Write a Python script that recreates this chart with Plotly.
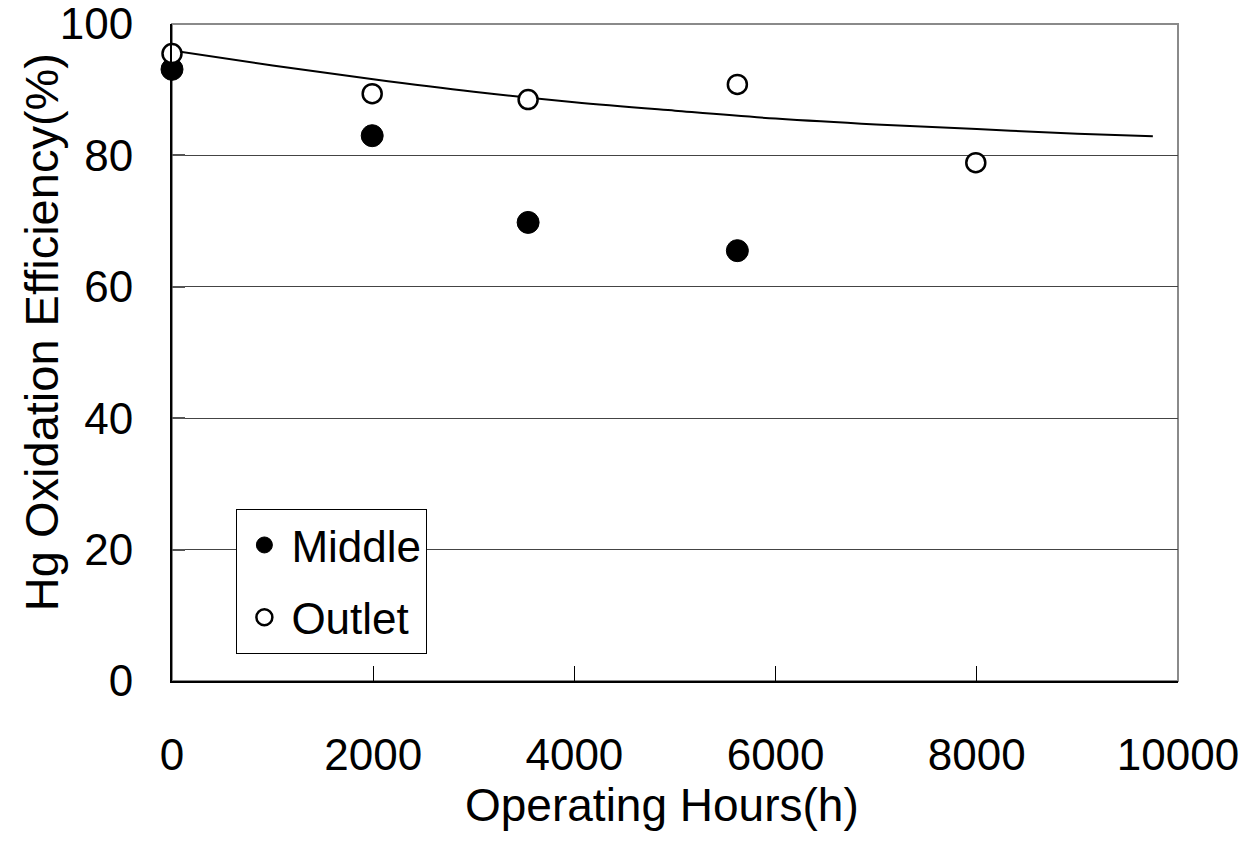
import plotly.graph_objects as go

# Measured oxidation efficiencies
hours_middle = [0, 1990, 3540, 5620]
eff_middle = [93.1, 83.0, 69.8, 65.5]

hours_outlet = [0, 1990, 3540, 5620, 7990]
eff_outlet = [95.5, 89.4, 88.5, 90.8, 78.9]

# Fitted trend curve through the outlet data
trend_hours = [-150, 1000, 2000, 3000, 4000, 5000, 6000, 7000, 8000, 9000, 9750]
trend_eff = [96.3, 93.7, 91.6, 89.7, 88.1, 86.8, 85.6, 84.7, 84.0, 83.3, 82.9]

x_ticks = [0, 2000, 4000, 6000, 8000, 10000]
y_ticks = [0, 20, 40, 60, 80, 100]

FONT = "Liberation Sans, Arial, sans-serif"

fig = go.Figure()

fig.add_trace(go.Scatter(
    x=trend_hours, y=trend_eff, mode="lines", line_shape="spline",
    line=dict(color="black", width=2), showlegend=False, hoverinfo="skip",
))
fig.add_trace(go.Scatter(
    x=hours_middle, y=eff_middle, mode="markers", name="Middle",
    legendgroup="middle",
    marker=dict(symbol="circle", size=22, color="black",
                line=dict(color="black", width=1)),
    cliponaxis=False,
))
fig.add_trace(go.Scatter(
    x=hours_outlet, y=eff_outlet, mode="markers", name="Outlet",
    legendgroup="outlet",
    marker=dict(symbol="circle", size=19, color="white",
                line=dict(color="black", width=2.5)),
    cliponaxis=False,
))

# grey frame on top and right
fig.add_shape(type="rect", xref="paper", yref="paper", x0=0, y0=0, x1=1, y1=1,
              line=dict(color="#8a8a8a", width=2), layer="below")

# axis titles as annotations
fig.add_annotation(
    text="Hg Oxidation Efficiency(%)", textangle=-90,
    xref="paper", yref="paper", x=0, y=0.531,
    xanchor="center", yanchor="middle", xshift=-131, showarrow=False,
    font=dict(family=FONT, size=47, color="black"),
)
fig.add_annotation(
    text="Operating Hours(h)",
    xref="paper", yref="paper", x=0.487, y=0,
    xanchor="center", yanchor="middle", yshift=-124, showarrow=False,
    font=dict(family=FONT, size=46, color="black"),
)

fig.update_layout(
    width=1247, height=858,
    margin=dict(l=172, r=69, t=24, b=177, autoexpand=False),
    paper_bgcolor="white", plot_bgcolor="white",
    font=dict(family=FONT, size=44, color="black"),
    showlegend=True,
    legend=dict(
        x=0.064, y=0.262, xanchor="left", yanchor="top",
        bgcolor="white", bordercolor="black", borderwidth=1,
        font=dict(family=FONT, size=44, color="black"),
        itemsizing="trace", itemwidth=44, tracegroupgap=12,
    ),
)

fig.update_xaxes(
    range=[0, 10000], tickvals=x_ticks, ticktext=[str(v) for v in x_ticks],
    ticks="inside", ticklen=15, tickcolor="black", tickwidth=1,
    showline=True, linecolor="black", linewidth=2,
    showgrid=False, zeroline=False, automargin=False,
    ticklabelstandoff=34, ticklabeloverflow="allow",
)
fig.update_yaxes(
    range=[0, 100], tickvals=y_ticks, ticktext=[str(v) for v in y_ticks],
    ticks="inside", ticklen=13, tickcolor="#555555", tickwidth=2,
    showline=True, linecolor="black", linewidth=2,
    showgrid=True, gridcolor="#444444", gridwidth=1, zeroline=False,
    automargin=False,
    ticklabelstandoff=28, ticklabeloverflow="allow",
)

fig.write_html("out.html")
